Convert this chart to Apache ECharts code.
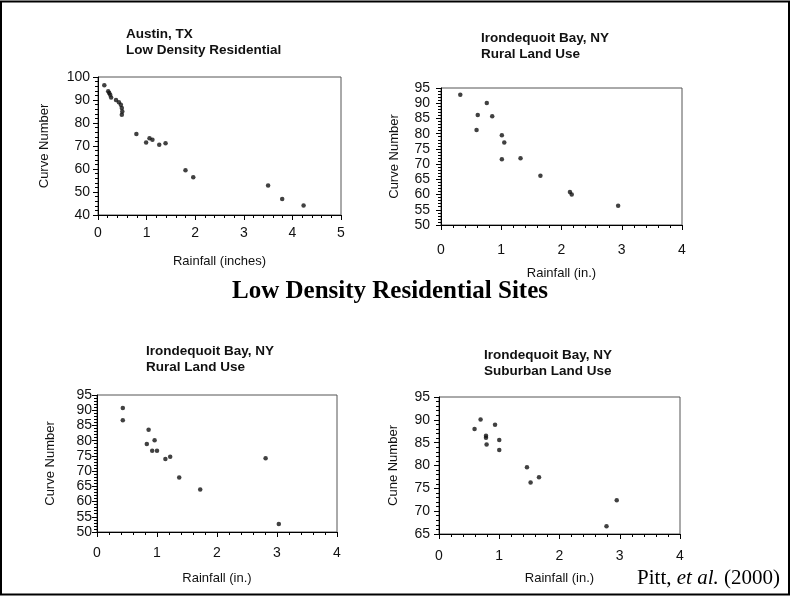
<!DOCTYPE html>
<html><head><meta charset="utf-8">
<script src="https://cdn.jsdelivr.net/npm/echarts@6/dist/echarts.min.js"></script>
<style>html,body{margin:0;padding:0;background:#fff}#c{width:791px;height:597px}</style>
</head><body><div id="c"></div>
<script>
// Austin, TX - Low Density Residential
const austinRain = [0.13,0.21,0.23,0.25,0.27,0.37,0.43,0.47,0.49,0.50,0.49,0.79,0.99,1.06,1.12,1.26,1.39,1.80,1.96,3.50,3.79,4.23];
const austinCN   = [96.4,93.8,93.0,92.3,91.1,90.0,89.0,87.9,86.5,85.0,83.6,75.2,71.5,73.4,72.7,70.5,71.2,59.5,56.4,52.8,47.0,44.1];
// Irondequoit Bay, NY - Rural Land Use (top)
const ruralARain = [0.32,0.61,0.59,0.76,0.85,1.01,1.05,1.01,1.32,1.65,2.14,2.17,2.94];
const ruralACN   = [92.8,86.1,81.2,90.1,85.7,79.5,77.1,71.6,71.9,66.2,60.8,60.0,56.3];
// Irondequoit Bay, NY - Rural Land Use (bottom)
const ruralBRain = [0.43,0.43,0.86,0.83,0.96,0.92,1.00,1.14,1.22,1.37,1.72,2.81,3.03];
const ruralBCN   = [90.7,86.7,83.6,78.9,80.1,76.7,76.7,74.0,74.7,67.9,64.0,74.2,52.6];
// Irondequoit Bay, NY - Suburban Land Use
const suburbRain = [0.59,0.69,0.78,0.78,0.79,0.93,1.00,1.00,1.46,1.52,1.66,2.78,2.95];
const suburbCN   = [88.0,90.1,86.5,86.1,84.6,88.9,85.6,83.4,79.6,76.3,77.4,66.7,72.4];

const panelTitles = [
  'Austin, TX\nLow Density Residential',
  'Irondequoit Bay, NY\nRural Land Use',
  'Irondequoit Bay, NY\nRural Land Use',
  'Irondequoit Bay, NY\nSuburban Land Use'
];
const xNames = ['Rainfall (inches)','Rainfall (in.)','Rainfall (in.)','Rainfall (in.)'];
const yNames = ['Curve Number','Curve Number','Curve Number','Cune Number'];
const mainTitle = 'Low Density Residential Sites';

function pts(xs, ys){ return xs.map((x,i)=>[x, ys[i]]); }
const SANS = '"Liberation Sans", Arial, sans-serif';
const SERIF = '"Liberation Serif", "Times New Roman", serif';
const INK = '#111';

const grids = [
  {left:98,  top:77,  width:243, height:138},
  {left:441, top:88,  width:241, height:137},
  {left:97,  top:395, width:240, height:137},
  {left:439, top:397, width:241, height:137}
].map(g => Object.assign(g, {show:true, borderColor:'#555', borderWidth:1, backgroundColor:'transparent'}));

function xAx(i, max, margin, nameGap){
  return {
    type:'value', gridIndex:i, min:0, max:max, interval:1,
    name:xNames[i], nameLocation:'middle', nameGap:nameGap,
    nameTextStyle:{fontFamily:SANS, fontSize:13, color:INK},
    axisLine:{show:true, onZero:false, lineStyle:{color:'#000', width:1}},
    axisTick:{show:true, length:5, lineStyle:{color:'#000'}},
    minorTick:{show:true, splitNumber:5, length:3, lineStyle:{color:'#000'}},
    splitLine:{show:false},
    axisLabel:{margin:margin, fontFamily:SANS, fontSize:14, color:INK}
  };
}
function yAx(i, min, max, interval, margin, nameGap){
  return {
    type:'value', gridIndex:i, min:min, max:max, interval:interval,
    name:yNames[i], nameLocation:'middle', nameGap:nameGap, nameRotate:90,
    nameTextStyle:{fontFamily:SANS, fontSize:13, color:INK},
    axisLine:{show:true, onZero:false, lineStyle:{color:'#000', width:1}},
    axisTick:{show:true, length:5, lineStyle:{color:'#000'}},
    minorTick:{show:true, splitNumber:5, length:3, lineStyle:{color:'#000'}},
    splitLine:{show:false},
    axisLabel:{margin:margin, fontFamily:SANS, fontSize:14, color:INK}
  };
}

const titlePos = [[126,26],[481,30],[146,343],[484,347]];
const titles = panelTitles.map((t,i)=>({
  text:t, left:titlePos[i][0], top:titlePos[i][1], padding:0,
  textStyle:{fontFamily:SANS, fontWeight:'bold', fontSize:13.5, lineHeight:16, color:INK}
}));

const sets = [pts(austinRain,austinCN), pts(ruralARain,ruralACN), pts(ruralBRain,ruralBCN), pts(suburbRain,suburbCN)];

const option = {
  animation:false,
  backgroundColor:'#fff',
  title:titles,
  grid:grids,
  xAxis:[xAx(0,5,11,40), xAx(1,4,18,42), xAx(2,4,14,40), xAx(3,4,15,38)],
  yAxis:[yAx(0,40,100,10,8,47), yAx(1,50,95,5,11,40), yAx(2,50,95,5,5,40), yAx(3,65,95,5,9,39)],
  series:sets.map((d,i)=>({
    type:'scatter', xAxisIndex:i, yAxisIndex:i, data:d,
    symbol:'circle', symbolSize:4.5, itemStyle:{color:INK}
  })),
  graphic:[
    {type:'rect', silent:true, shape:{x:1, y:1.5, width:788, height:593},
      style:{fill:'none', stroke:'#000', lineWidth:2}},
    {type:'text', x:390, y:292, style:{text:mainTitle, font:'bold 25px '+SERIF, fill:'#000', align:'center', verticalAlign:'middle'}},
    {type:'text', x:780, y:578, style:{
      text:'{n|Pitt, }{i|et al.}{n| (2000)}', align:'right', verticalAlign:'middle',
      rich:{
        n:{fontFamily:SERIF, fontSize:21, fill:'#000', color:'#000'},
        i:{fontFamily:SERIF, fontSize:21, fontStyle:'italic', fill:'#000', color:'#000'}
      }
    }}
  ]
};
const chart = echarts.init(document.getElementById('c'), null, {renderer:'canvas'});
chart.setOption(option);
</script>
</body></html>
